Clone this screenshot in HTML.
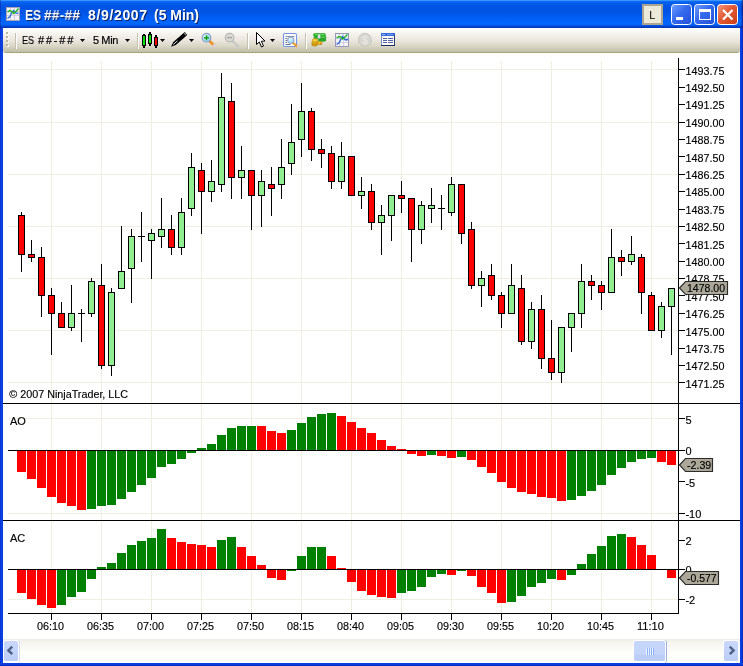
<!DOCTYPE html>
<html><head><meta charset="utf-8"><title>ES ##-## 8/9/2007 (5 Min)</title>
<style>
html,body{margin:0;padding:0;}
body{width:743px;height:666px;overflow:hidden;background:#fff;font-family:"Liberation Sans",sans-serif;position:relative;}
#win{position:absolute;left:0;top:0;width:743px;height:666px;background:#fff;overflow:hidden;}
#bl,#br,#bb{position:absolute;background:#0831D9;}
#bl{left:0;top:28px;width:3px;height:638px;background:linear-gradient(90deg,#0A30D0 0,#0A3FE0 1px,#0A3FE0 3px);}
#br{left:740px;top:28px;width:3px;height:638px;background:linear-gradient(90deg,#0A3FE0 0,#0A3FE0 1px,#0838D8 2px,#0024B0 3px);}
#bb{left:0;top:663px;width:743px;height:3px;background:linear-gradient(180deg,#0A3FE0 0,#0A3FE0 1px,#0838D8 2px,#0024B0 3px);}
#title{position:absolute;left:0;top:0;width:743px;height:28px;background:linear-gradient(180deg,#3A94FF 0,#3A94FF 1px,#1070F8 1px,#0862F0 2px,#0560EE 3px,#0054E3 6px,#0054E3 12px,#0160F7 19px,#0266FF 24px,#0161F8 25px,#0048D4 26px,#0033B0 28px);}
.tw{will-change:transform;position:absolute;top:7px;color:#fff;font-weight:bold;font-size:14px;line-height:16px;white-space:pre;text-shadow:1px 1px 0 #0A246A;letter-spacing:0.02px;}
#tool{position:absolute;left:3px;top:28px;width:737px;height:25px;background:linear-gradient(180deg,#FFFFFE 0,#FCFBF9 2px,#F5F3EC 6px,#ECE7E0 12px,#DAD7C6 18px,#C8C6B0 22px,#C2C1AA 24px,#A3A37C 24px,#A3A37C 25px);border-radius:0 0 3px 3px;}
.tt{-webkit-text-stroke:0.2px #000;will-change:transform;position:absolute;top:34px;font-size:11px;line-height:13px;color:#000;white-space:pre;letter-spacing:0.55px;}
#sb{position:absolute;left:3px;top:639px;width:737px;height:24px;background:linear-gradient(180deg,#EEEDE5 0,#F6F5F0 4px,#FEFEFB 14px,#FEFEFB 23px);}
.sbtn{position:absolute;top:640px;height:20px;border-bottom-width:2px !important;background:linear-gradient(180deg,#C9D8FC,#BCCDF8);border:1px solid #fff;border-radius:3px;box-shadow:0 0 0 0 #fff;}
</style></head><body>
<div id="win">
<svg width="743" height="666" style="position:absolute;left:0;top:0;will-change:transform" shape-rendering="crispEdges">
<rect x="51" y="61" width="1" height="552" fill="#F0EEE0"/>
<rect x="101" y="61" width="1" height="552" fill="#F0EEE0"/>
<rect x="151" y="61" width="1" height="552" fill="#F0EEE0"/>
<rect x="201" y="61" width="1" height="552" fill="#F0EEE0"/>
<rect x="251" y="61" width="1" height="552" fill="#F0EEE0"/>
<rect x="301" y="61" width="1" height="552" fill="#F0EEE0"/>
<rect x="351" y="61" width="1" height="552" fill="#F0EEE0"/>
<rect x="401" y="61" width="1" height="552" fill="#F0EEE0"/>
<rect x="451" y="61" width="1" height="552" fill="#F0EEE0"/>
<rect x="501" y="61" width="1" height="552" fill="#F0EEE0"/>
<rect x="551" y="61" width="1" height="552" fill="#F0EEE0"/>
<rect x="601" y="61" width="1" height="552" fill="#F0EEE0"/>
<rect x="651" y="61" width="1" height="552" fill="#F0EEE0"/>
<rect x="8" y="69" width="670" height="1" fill="#F0EEE0"/>
<rect x="8" y="122" width="670" height="1" fill="#F0EEE0"/>
<rect x="8" y="174" width="670" height="1" fill="#F0EEE0"/>
<rect x="8" y="226" width="670" height="1" fill="#F0EEE0"/>
<rect x="8" y="278" width="670" height="1" fill="#F0EEE0"/>
<rect x="8" y="330" width="670" height="1" fill="#F0EEE0"/>
<rect x="8" y="382" width="670" height="1" fill="#F0EEE0"/>
<rect x="8" y="418" width="670" height="1" fill="#F0EEE0"/>
<rect x="8" y="513" width="670" height="1" fill="#F0EEE0"/>
<rect x="8" y="599" width="670" height="1" fill="#F0EEE0"/>
<rect x="21" y="212" width="1" height="60" fill="#000"/>
<rect x="18" y="215" width="7" height="40" fill="#000"/>
<rect x="19" y="216" width="5" height="38" fill="#FF0000"/>
<rect x="31" y="240" width="1" height="22" fill="#000"/>
<rect x="28" y="254" width="7" height="4" fill="#000"/>
<rect x="29" y="255" width="5" height="2" fill="#FF0000"/>
<rect x="41" y="247" width="1" height="70" fill="#000"/>
<rect x="38" y="257" width="7" height="39" fill="#000"/>
<rect x="39" y="258" width="5" height="37" fill="#FF0000"/>
<rect x="51" y="288" width="1" height="67" fill="#000"/>
<rect x="48" y="295" width="7" height="19" fill="#000"/>
<rect x="49" y="296" width="5" height="17" fill="#FF0000"/>
<rect x="61" y="302" width="1" height="26" fill="#000"/>
<rect x="58" y="313" width="7" height="15" fill="#000"/>
<rect x="59" y="314" width="5" height="13" fill="#FF0000"/>
<rect x="71" y="285" width="1" height="46" fill="#000"/>
<rect x="68" y="313" width="7" height="15" fill="#000"/>
<rect x="69" y="314" width="5" height="13" fill="#90EE90"/>
<rect x="81" y="309" width="1" height="33" fill="#000"/>
<rect x="78" y="313" width="7" height="1" fill="#000"/>
<rect x="91" y="278" width="1" height="39" fill="#000"/>
<rect x="88" y="281" width="7" height="33" fill="#000"/>
<rect x="89" y="282" width="5" height="31" fill="#90EE90"/>
<rect x="101" y="264" width="1" height="105" fill="#000"/>
<rect x="98" y="285" width="7" height="81" fill="#000"/>
<rect x="99" y="286" width="5" height="79" fill="#FF0000"/>
<rect x="111" y="288" width="1" height="88" fill="#000"/>
<rect x="108" y="292" width="7" height="74" fill="#000"/>
<rect x="109" y="293" width="5" height="72" fill="#90EE90"/>
<rect x="121" y="226" width="1" height="63" fill="#000"/>
<rect x="118" y="271" width="7" height="18" fill="#000"/>
<rect x="119" y="272" width="5" height="16" fill="#90EE90"/>
<rect x="131" y="229" width="1" height="74" fill="#000"/>
<rect x="128" y="236" width="7" height="33" fill="#000"/>
<rect x="129" y="237" width="5" height="31" fill="#90EE90"/>
<rect x="141" y="212" width="1" height="50" fill="#000"/>
<rect x="138" y="236" width="7" height="1" fill="#000"/>
<rect x="151" y="229" width="1" height="50" fill="#000"/>
<rect x="148" y="233" width="7" height="8" fill="#000"/>
<rect x="149" y="234" width="5" height="6" fill="#90EE90"/>
<rect x="161" y="198" width="1" height="50" fill="#000"/>
<rect x="158" y="229" width="7" height="8" fill="#000"/>
<rect x="159" y="230" width="5" height="6" fill="#90EE90"/>
<rect x="171" y="215" width="1" height="40" fill="#000"/>
<rect x="168" y="229" width="7" height="19" fill="#000"/>
<rect x="169" y="230" width="5" height="17" fill="#FF0000"/>
<rect x="181" y="198" width="1" height="57" fill="#000"/>
<rect x="178" y="212" width="7" height="36" fill="#000"/>
<rect x="179" y="213" width="5" height="34" fill="#90EE90"/>
<rect x="191" y="153" width="1" height="63" fill="#000"/>
<rect x="188" y="167" width="7" height="42" fill="#000"/>
<rect x="189" y="168" width="5" height="40" fill="#90EE90"/>
<rect x="201" y="163" width="1" height="71" fill="#000"/>
<rect x="198" y="170" width="7" height="22" fill="#000"/>
<rect x="199" y="171" width="5" height="20" fill="#FF0000"/>
<rect x="211" y="160" width="1" height="42" fill="#000"/>
<rect x="208" y="181" width="7" height="11" fill="#000"/>
<rect x="209" y="182" width="5" height="9" fill="#90EE90"/>
<rect x="221" y="73" width="1" height="119" fill="#000"/>
<rect x="218" y="97" width="7" height="88" fill="#000"/>
<rect x="219" y="98" width="5" height="86" fill="#90EE90"/>
<rect x="231" y="83" width="1" height="116" fill="#000"/>
<rect x="228" y="101" width="7" height="77" fill="#000"/>
<rect x="229" y="102" width="5" height="75" fill="#FF0000"/>
<rect x="241" y="146" width="1" height="53" fill="#000"/>
<rect x="238" y="170" width="7" height="8" fill="#000"/>
<rect x="239" y="171" width="5" height="6" fill="#90EE90"/>
<rect x="251" y="170" width="1" height="60" fill="#000"/>
<rect x="248" y="170" width="7" height="26" fill="#000"/>
<rect x="249" y="171" width="5" height="24" fill="#FF0000"/>
<rect x="261" y="170" width="1" height="57" fill="#000"/>
<rect x="258" y="181" width="7" height="15" fill="#000"/>
<rect x="259" y="182" width="5" height="13" fill="#90EE90"/>
<rect x="271" y="167" width="1" height="49" fill="#000"/>
<rect x="268" y="184" width="7" height="5" fill="#000"/>
<rect x="269" y="185" width="5" height="3" fill="#FF0000"/>
<rect x="281" y="139" width="1" height="60" fill="#000"/>
<rect x="278" y="167" width="7" height="18" fill="#000"/>
<rect x="279" y="168" width="5" height="16" fill="#90EE90"/>
<rect x="291" y="104" width="1" height="71" fill="#000"/>
<rect x="288" y="142" width="7" height="22" fill="#000"/>
<rect x="289" y="143" width="5" height="20" fill="#90EE90"/>
<rect x="301" y="83" width="1" height="74" fill="#000"/>
<rect x="298" y="111" width="7" height="29" fill="#000"/>
<rect x="299" y="112" width="5" height="27" fill="#90EE90"/>
<rect x="311" y="108" width="1" height="53" fill="#000"/>
<rect x="308" y="111" width="7" height="39" fill="#000"/>
<rect x="309" y="112" width="5" height="37" fill="#FF0000"/>
<rect x="321" y="139" width="1" height="29" fill="#000"/>
<rect x="318" y="149" width="7" height="5" fill="#000"/>
<rect x="319" y="150" width="5" height="3" fill="#FF0000"/>
<rect x="331" y="146" width="1" height="43" fill="#000"/>
<rect x="328" y="153" width="7" height="29" fill="#000"/>
<rect x="329" y="154" width="5" height="27" fill="#FF0000"/>
<rect x="341" y="142" width="1" height="47" fill="#000"/>
<rect x="338" y="156" width="7" height="26" fill="#000"/>
<rect x="339" y="157" width="5" height="24" fill="#90EE90"/>
<rect x="351" y="156" width="1" height="40" fill="#000"/>
<rect x="348" y="156" width="7" height="40" fill="#000"/>
<rect x="349" y="157" width="5" height="38" fill="#FF0000"/>
<rect x="361" y="177" width="1" height="32" fill="#000"/>
<rect x="358" y="191" width="7" height="5" fill="#000"/>
<rect x="359" y="192" width="5" height="3" fill="#90EE90"/>
<rect x="371" y="184" width="1" height="46" fill="#000"/>
<rect x="368" y="191" width="7" height="32" fill="#000"/>
<rect x="369" y="192" width="5" height="30" fill="#FF0000"/>
<rect x="381" y="205" width="1" height="50" fill="#000"/>
<rect x="378" y="215" width="7" height="8" fill="#000"/>
<rect x="379" y="216" width="5" height="6" fill="#90EE90"/>
<rect x="391" y="195" width="1" height="46" fill="#000"/>
<rect x="388" y="195" width="7" height="21" fill="#000"/>
<rect x="389" y="196" width="5" height="19" fill="#90EE90"/>
<rect x="401" y="181" width="1" height="32" fill="#000"/>
<rect x="398" y="195" width="7" height="4" fill="#000"/>
<rect x="399" y="196" width="5" height="2" fill="#FF0000"/>
<rect x="411" y="198" width="1" height="64" fill="#000"/>
<rect x="408" y="198" width="7" height="32" fill="#000"/>
<rect x="409" y="199" width="5" height="30" fill="#FF0000"/>
<rect x="421" y="201" width="1" height="43" fill="#000"/>
<rect x="418" y="205" width="7" height="25" fill="#000"/>
<rect x="419" y="206" width="5" height="23" fill="#90EE90"/>
<rect x="431" y="188" width="1" height="35" fill="#000"/>
<rect x="428" y="205" width="7" height="4" fill="#000"/>
<rect x="429" y="206" width="5" height="2" fill="#90EE90"/>
<rect x="441" y="195" width="1" height="35" fill="#000"/>
<rect x="438" y="208" width="7" height="1" fill="#000"/>
<rect x="451" y="177" width="1" height="39" fill="#000"/>
<rect x="448" y="184" width="7" height="29" fill="#000"/>
<rect x="449" y="185" width="5" height="27" fill="#90EE90"/>
<rect x="461" y="184" width="1" height="60" fill="#000"/>
<rect x="458" y="184" width="7" height="50" fill="#000"/>
<rect x="459" y="185" width="5" height="48" fill="#FF0000"/>
<rect x="471" y="222" width="1" height="67" fill="#000"/>
<rect x="468" y="229" width="7" height="57" fill="#000"/>
<rect x="469" y="230" width="5" height="55" fill="#FF0000"/>
<rect x="481" y="271" width="1" height="36" fill="#000"/>
<rect x="478" y="278" width="7" height="8" fill="#000"/>
<rect x="479" y="279" width="5" height="6" fill="#90EE90"/>
<rect x="491" y="264" width="1" height="36" fill="#000"/>
<rect x="488" y="275" width="7" height="21" fill="#000"/>
<rect x="489" y="276" width="5" height="19" fill="#FF0000"/>
<rect x="501" y="292" width="1" height="36" fill="#000"/>
<rect x="498" y="295" width="7" height="19" fill="#000"/>
<rect x="499" y="296" width="5" height="17" fill="#FF0000"/>
<rect x="511" y="264" width="1" height="50" fill="#000"/>
<rect x="508" y="285" width="7" height="29" fill="#000"/>
<rect x="509" y="286" width="5" height="27" fill="#90EE90"/>
<rect x="521" y="275" width="1" height="70" fill="#000"/>
<rect x="518" y="288" width="7" height="54" fill="#000"/>
<rect x="519" y="289" width="5" height="52" fill="#FF0000"/>
<rect x="531" y="302" width="1" height="47" fill="#000"/>
<rect x="528" y="309" width="7" height="33" fill="#000"/>
<rect x="529" y="310" width="5" height="31" fill="#90EE90"/>
<rect x="541" y="295" width="1" height="74" fill="#000"/>
<rect x="538" y="309" width="7" height="50" fill="#000"/>
<rect x="539" y="310" width="5" height="48" fill="#FF0000"/>
<rect x="551" y="320" width="1" height="60" fill="#000"/>
<rect x="548" y="358" width="7" height="15" fill="#000"/>
<rect x="549" y="359" width="5" height="13" fill="#FF0000"/>
<rect x="561" y="327" width="1" height="56" fill="#000"/>
<rect x="558" y="327" width="7" height="46" fill="#000"/>
<rect x="559" y="328" width="5" height="44" fill="#90EE90"/>
<rect x="571" y="313" width="1" height="39" fill="#000"/>
<rect x="568" y="313" width="7" height="15" fill="#000"/>
<rect x="569" y="314" width="5" height="13" fill="#90EE90"/>
<rect x="581" y="264" width="1" height="64" fill="#000"/>
<rect x="578" y="281" width="7" height="33" fill="#000"/>
<rect x="579" y="282" width="5" height="31" fill="#90EE90"/>
<rect x="591" y="275" width="1" height="25" fill="#000"/>
<rect x="588" y="281" width="7" height="5" fill="#000"/>
<rect x="589" y="282" width="5" height="3" fill="#FF0000"/>
<rect x="601" y="281" width="1" height="29" fill="#000"/>
<rect x="598" y="285" width="7" height="8" fill="#000"/>
<rect x="599" y="286" width="5" height="6" fill="#FF0000"/>
<rect x="611" y="229" width="1" height="64" fill="#000"/>
<rect x="608" y="257" width="7" height="36" fill="#000"/>
<rect x="609" y="258" width="5" height="34" fill="#90EE90"/>
<rect x="621" y="250" width="1" height="26" fill="#000"/>
<rect x="618" y="257" width="7" height="5" fill="#000"/>
<rect x="619" y="258" width="5" height="3" fill="#FF0000"/>
<rect x="631" y="236" width="1" height="29" fill="#000"/>
<rect x="628" y="254" width="7" height="8" fill="#000"/>
<rect x="629" y="255" width="5" height="6" fill="#90EE90"/>
<rect x="641" y="254" width="1" height="60" fill="#000"/>
<rect x="638" y="257" width="7" height="36" fill="#000"/>
<rect x="639" y="258" width="5" height="34" fill="#FF0000"/>
<rect x="651" y="292" width="1" height="39" fill="#000"/>
<rect x="648" y="295" width="7" height="36" fill="#000"/>
<rect x="649" y="296" width="5" height="34" fill="#FF0000"/>
<rect x="661" y="302" width="1" height="36" fill="#000"/>
<rect x="658" y="306" width="7" height="25" fill="#000"/>
<rect x="659" y="307" width="5" height="23" fill="#90EE90"/>
<rect x="671" y="288" width="1" height="67" fill="#000"/>
<rect x="668" y="288" width="7" height="19" fill="#000"/>
<rect x="669" y="289" width="5" height="17" fill="#90EE90"/>
<rect x="17" y="451" width="9" height="21" fill="#FF0000"/>
<rect x="27" y="451" width="9" height="28" fill="#FF0000"/>
<rect x="37" y="451" width="9" height="37" fill="#FF0000"/>
<rect x="47" y="451" width="9" height="46" fill="#FF0000"/>
<rect x="57" y="451" width="9" height="52" fill="#FF0000"/>
<rect x="67" y="451" width="9" height="55" fill="#FF0000"/>
<rect x="77" y="451" width="9" height="59" fill="#FF0000"/>
<rect x="87" y="451" width="9" height="58" fill="#008000"/>
<rect x="97" y="451" width="9" height="55" fill="#008000"/>
<rect x="107" y="451" width="9" height="54" fill="#008000"/>
<rect x="117" y="451" width="9" height="48" fill="#008000"/>
<rect x="127" y="451" width="9" height="41" fill="#008000"/>
<rect x="137" y="451" width="9" height="34" fill="#008000"/>
<rect x="147" y="451" width="9" height="27" fill="#008000"/>
<rect x="157" y="451" width="9" height="16" fill="#008000"/>
<rect x="167" y="451" width="9" height="13" fill="#008000"/>
<rect x="177" y="451" width="9" height="8" fill="#008000"/>
<rect x="187" y="451" width="9" height="2" fill="#008000"/>
<rect x="197" y="448" width="9" height="2" fill="#008000"/>
<rect x="207" y="444" width="9" height="6" fill="#008000"/>
<rect x="217" y="435" width="9" height="15" fill="#008000"/>
<rect x="227" y="428" width="9" height="22" fill="#008000"/>
<rect x="237" y="426" width="9" height="24" fill="#008000"/>
<rect x="247" y="426" width="9" height="24" fill="#008000"/>
<rect x="257" y="426" width="9" height="24" fill="#FF0000"/>
<rect x="267" y="431" width="9" height="19" fill="#FF0000"/>
<rect x="277" y="433" width="9" height="17" fill="#FF0000"/>
<rect x="287" y="430" width="9" height="20" fill="#008000"/>
<rect x="297" y="423" width="9" height="27" fill="#008000"/>
<rect x="307" y="417" width="9" height="33" fill="#008000"/>
<rect x="317" y="414" width="9" height="36" fill="#008000"/>
<rect x="327" y="413" width="9" height="37" fill="#008000"/>
<rect x="337" y="416" width="9" height="34" fill="#FF0000"/>
<rect x="347" y="422" width="9" height="28" fill="#FF0000"/>
<rect x="357" y="428" width="9" height="22" fill="#FF0000"/>
<rect x="367" y="433" width="9" height="17" fill="#FF0000"/>
<rect x="377" y="440" width="9" height="10" fill="#FF0000"/>
<rect x="387" y="446" width="9" height="4" fill="#FF0000"/>
<rect x="397" y="449" width="9" height="1" fill="#FF0000"/>
<rect x="407" y="451" width="9" height="3" fill="#FF0000"/>
<rect x="417" y="451" width="9" height="5" fill="#FF0000"/>
<rect x="427" y="451" width="9" height="4" fill="#008000"/>
<rect x="437" y="451" width="9" height="5" fill="#FF0000"/>
<rect x="447" y="451" width="9" height="7" fill="#FF0000"/>
<rect x="457" y="451" width="9" height="6" fill="#008000"/>
<rect x="467" y="451" width="9" height="9" fill="#FF0000"/>
<rect x="477" y="451" width="9" height="16" fill="#FF0000"/>
<rect x="487" y="451" width="9" height="22" fill="#FF0000"/>
<rect x="497" y="451" width="9" height="31" fill="#FF0000"/>
<rect x="507" y="451" width="9" height="37" fill="#FF0000"/>
<rect x="517" y="451" width="9" height="41" fill="#FF0000"/>
<rect x="527" y="451" width="9" height="43" fill="#FF0000"/>
<rect x="537" y="451" width="9" height="46" fill="#FF0000"/>
<rect x="547" y="451" width="9" height="47" fill="#FF0000"/>
<rect x="557" y="451" width="9" height="50" fill="#FF0000"/>
<rect x="567" y="451" width="9" height="49" fill="#008000"/>
<rect x="577" y="451" width="9" height="45" fill="#008000"/>
<rect x="587" y="451" width="9" height="40" fill="#008000"/>
<rect x="597" y="451" width="9" height="34" fill="#008000"/>
<rect x="607" y="451" width="9" height="24" fill="#008000"/>
<rect x="617" y="451" width="9" height="17" fill="#008000"/>
<rect x="627" y="451" width="9" height="11" fill="#008000"/>
<rect x="637" y="451" width="9" height="8" fill="#008000"/>
<rect x="647" y="451" width="9" height="7" fill="#008000"/>
<rect x="657" y="451" width="9" height="11" fill="#FF0000"/>
<rect x="667" y="451" width="9" height="14" fill="#FF0000"/>
<rect x="17" y="570" width="9" height="23" fill="#FF0000"/>
<rect x="27" y="570" width="9" height="29" fill="#FF0000"/>
<rect x="37" y="570" width="9" height="35" fill="#FF0000"/>
<rect x="47" y="570" width="9" height="38" fill="#FF0000"/>
<rect x="57" y="570" width="9" height="35" fill="#008000"/>
<rect x="67" y="570" width="9" height="27" fill="#008000"/>
<rect x="77" y="570" width="9" height="22" fill="#008000"/>
<rect x="87" y="570" width="9" height="9" fill="#008000"/>
<rect x="97" y="567" width="9" height="2" fill="#008000"/>
<rect x="107" y="563" width="9" height="6" fill="#008000"/>
<rect x="117" y="553" width="9" height="16" fill="#008000"/>
<rect x="127" y="545" width="9" height="24" fill="#008000"/>
<rect x="137" y="541" width="9" height="28" fill="#008000"/>
<rect x="147" y="538" width="9" height="31" fill="#008000"/>
<rect x="157" y="529" width="9" height="40" fill="#008000"/>
<rect x="167" y="538" width="9" height="31" fill="#FF0000"/>
<rect x="177" y="542" width="9" height="27" fill="#FF0000"/>
<rect x="187" y="544" width="9" height="25" fill="#FF0000"/>
<rect x="197" y="545" width="9" height="24" fill="#FF0000"/>
<rect x="207" y="547" width="9" height="22" fill="#FF0000"/>
<rect x="217" y="540" width="9" height="29" fill="#008000"/>
<rect x="227" y="537" width="9" height="32" fill="#008000"/>
<rect x="237" y="547" width="9" height="22" fill="#FF0000"/>
<rect x="247" y="556" width="9" height="13" fill="#FF0000"/>
<rect x="257" y="565" width="9" height="4" fill="#FF0000"/>
<rect x="267" y="570" width="9" height="8" fill="#FF0000"/>
<rect x="277" y="570" width="9" height="10" fill="#FF0000"/>
<rect x="287" y="570" width="9" height="1" fill="#008000"/>
<rect x="297" y="556" width="9" height="13" fill="#008000"/>
<rect x="307" y="547" width="9" height="22" fill="#008000"/>
<rect x="317" y="547" width="9" height="22" fill="#008000"/>
<rect x="327" y="556" width="9" height="13" fill="#FF0000"/>
<rect x="337" y="568" width="9" height="1" fill="#FF0000"/>
<rect x="347" y="570" width="9" height="12" fill="#FF0000"/>
<rect x="357" y="570" width="9" height="21" fill="#FF0000"/>
<rect x="367" y="570" width="9" height="25" fill="#FF0000"/>
<rect x="377" y="570" width="9" height="27" fill="#FF0000"/>
<rect x="387" y="570" width="9" height="28" fill="#FF0000"/>
<rect x="397" y="570" width="9" height="23" fill="#008000"/>
<rect x="407" y="570" width="9" height="21" fill="#008000"/>
<rect x="417" y="570" width="9" height="17" fill="#008000"/>
<rect x="427" y="570" width="9" height="7" fill="#008000"/>
<rect x="437" y="570" width="9" height="4" fill="#008000"/>
<rect x="447" y="570" width="9" height="5" fill="#FF0000"/>
<rect x="457" y="570" width="9" height="1" fill="#008000"/>
<rect x="467" y="570" width="9" height="6" fill="#FF0000"/>
<rect x="477" y="570" width="9" height="17" fill="#FF0000"/>
<rect x="487" y="570" width="9" height="23" fill="#FF0000"/>
<rect x="497" y="570" width="9" height="33" fill="#FF0000"/>
<rect x="507" y="570" width="9" height="32" fill="#008000"/>
<rect x="517" y="570" width="9" height="26" fill="#008000"/>
<rect x="527" y="570" width="9" height="17" fill="#008000"/>
<rect x="537" y="570" width="9" height="13" fill="#008000"/>
<rect x="547" y="570" width="9" height="9" fill="#008000"/>
<rect x="557" y="570" width="9" height="10" fill="#FF0000"/>
<rect x="567" y="570" width="9" height="5" fill="#008000"/>
<rect x="577" y="564" width="9" height="5" fill="#008000"/>
<rect x="587" y="554" width="9" height="15" fill="#008000"/>
<rect x="597" y="546" width="9" height="23" fill="#008000"/>
<rect x="607" y="536" width="9" height="33" fill="#008000"/>
<rect x="617" y="534" width="9" height="35" fill="#008000"/>
<rect x="627" y="537" width="9" height="32" fill="#FF0000"/>
<rect x="637" y="545" width="9" height="24" fill="#FF0000"/>
<rect x="647" y="555" width="9" height="14" fill="#FF0000"/>
<rect x="667" y="570" width="9" height="8" fill="#FF0000"/>
<rect x="3" y="403" width="737" height="1" fill="#000"/>
<rect x="3" y="520" width="737" height="1" fill="#000"/>
<rect x="8" y="450" width="670" height="1" fill="#000"/>
<rect x="8" y="569" width="670" height="1" fill="#000"/>
<rect x="678" y="58" width="1" height="556" fill="#000"/>
<rect x="8" y="613" width="671" height="1" fill="#000"/>
<rect x="51" y="614" width="1" height="6" fill="#000"/>
<rect x="101" y="614" width="1" height="6" fill="#000"/>
<rect x="151" y="614" width="1" height="6" fill="#000"/>
<rect x="201" y="614" width="1" height="6" fill="#000"/>
<rect x="251" y="614" width="1" height="6" fill="#000"/>
<rect x="301" y="614" width="1" height="6" fill="#000"/>
<rect x="351" y="614" width="1" height="6" fill="#000"/>
<rect x="401" y="614" width="1" height="6" fill="#000"/>
<rect x="451" y="614" width="1" height="6" fill="#000"/>
<rect x="501" y="614" width="1" height="6" fill="#000"/>
<rect x="551" y="614" width="1" height="6" fill="#000"/>
<rect x="601" y="614" width="1" height="6" fill="#000"/>
<rect x="651" y="614" width="1" height="6" fill="#000"/>
<rect x="679" y="69" width="6" height="1" fill="#000"/>
<text x="685.6" y="75" textLength="38.9" lengthAdjust="spacingAndGlyphs" font-family="Liberation Sans, sans-serif" font-size="11" fill="#000" stroke="#000" stroke-width="0.15">1493.75</text>
<rect x="679" y="87" width="6" height="1" fill="#000"/>
<text x="685.6" y="92" textLength="38.9" lengthAdjust="spacingAndGlyphs" font-family="Liberation Sans, sans-serif" font-size="11" fill="#000" stroke="#000" stroke-width="0.15">1492.50</text>
<rect x="679" y="104" width="6" height="1" fill="#000"/>
<text x="685.6" y="109" textLength="38.9" lengthAdjust="spacingAndGlyphs" font-family="Liberation Sans, sans-serif" font-size="11" fill="#000" stroke="#000" stroke-width="0.15">1491.25</text>
<rect x="679" y="122" width="6" height="1" fill="#000"/>
<text x="685.6" y="127" textLength="38.9" lengthAdjust="spacingAndGlyphs" font-family="Liberation Sans, sans-serif" font-size="11" fill="#000" stroke="#000" stroke-width="0.15">1490.00</text>
<rect x="679" y="139" width="6" height="1" fill="#000"/>
<text x="685.6" y="144" textLength="38.9" lengthAdjust="spacingAndGlyphs" font-family="Liberation Sans, sans-serif" font-size="11" fill="#000" stroke="#000" stroke-width="0.15">1488.75</text>
<rect x="679" y="156" width="6" height="1" fill="#000"/>
<text x="685.6" y="162" textLength="38.9" lengthAdjust="spacingAndGlyphs" font-family="Liberation Sans, sans-serif" font-size="11" fill="#000" stroke="#000" stroke-width="0.15">1487.50</text>
<rect x="679" y="174" width="6" height="1" fill="#000"/>
<text x="685.6" y="179" textLength="38.9" lengthAdjust="spacingAndGlyphs" font-family="Liberation Sans, sans-serif" font-size="11" fill="#000" stroke="#000" stroke-width="0.15">1486.25</text>
<rect x="679" y="191" width="6" height="1" fill="#000"/>
<text x="685.6" y="196" textLength="38.9" lengthAdjust="spacingAndGlyphs" font-family="Liberation Sans, sans-serif" font-size="11" fill="#000" stroke="#000" stroke-width="0.15">1485.00</text>
<rect x="679" y="209" width="6" height="1" fill="#000"/>
<text x="685.6" y="214" textLength="38.9" lengthAdjust="spacingAndGlyphs" font-family="Liberation Sans, sans-serif" font-size="11" fill="#000" stroke="#000" stroke-width="0.15">1483.75</text>
<rect x="679" y="226" width="6" height="1" fill="#000"/>
<text x="685.6" y="231" textLength="38.9" lengthAdjust="spacingAndGlyphs" font-family="Liberation Sans, sans-serif" font-size="11" fill="#000" stroke="#000" stroke-width="0.15">1482.50</text>
<rect x="679" y="243" width="6" height="1" fill="#000"/>
<text x="685.6" y="249" textLength="38.9" lengthAdjust="spacingAndGlyphs" font-family="Liberation Sans, sans-serif" font-size="11" fill="#000" stroke="#000" stroke-width="0.15">1481.25</text>
<rect x="679" y="261" width="6" height="1" fill="#000"/>
<text x="685.6" y="266" textLength="38.9" lengthAdjust="spacingAndGlyphs" font-family="Liberation Sans, sans-serif" font-size="11" fill="#000" stroke="#000" stroke-width="0.15">1480.00</text>
<rect x="679" y="278" width="6" height="1" fill="#000"/>
<text x="685.6" y="283" textLength="38.9" lengthAdjust="spacingAndGlyphs" font-family="Liberation Sans, sans-serif" font-size="11" fill="#000" stroke="#000" stroke-width="0.15">1478.75</text>
<rect x="679" y="295" width="6" height="1" fill="#000"/>
<text x="685.6" y="301" textLength="38.9" lengthAdjust="spacingAndGlyphs" font-family="Liberation Sans, sans-serif" font-size="11" fill="#000" stroke="#000" stroke-width="0.15">1477.50</text>
<rect x="679" y="313" width="6" height="1" fill="#000"/>
<text x="685.6" y="318" textLength="38.9" lengthAdjust="spacingAndGlyphs" font-family="Liberation Sans, sans-serif" font-size="11" fill="#000" stroke="#000" stroke-width="0.15">1476.25</text>
<rect x="679" y="330" width="6" height="1" fill="#000"/>
<text x="685.6" y="336" textLength="38.9" lengthAdjust="spacingAndGlyphs" font-family="Liberation Sans, sans-serif" font-size="11" fill="#000" stroke="#000" stroke-width="0.15">1475.00</text>
<rect x="679" y="348" width="6" height="1" fill="#000"/>
<text x="685.6" y="353" textLength="38.9" lengthAdjust="spacingAndGlyphs" font-family="Liberation Sans, sans-serif" font-size="11" fill="#000" stroke="#000" stroke-width="0.15">1473.75</text>
<rect x="679" y="365" width="6" height="1" fill="#000"/>
<text x="685.6" y="370" textLength="38.9" lengthAdjust="spacingAndGlyphs" font-family="Liberation Sans, sans-serif" font-size="11" fill="#000" stroke="#000" stroke-width="0.15">1472.50</text>
<rect x="679" y="382" width="6" height="1" fill="#000"/>
<text x="685.6" y="388" textLength="38.9" lengthAdjust="spacingAndGlyphs" font-family="Liberation Sans, sans-serif" font-size="11" fill="#000" stroke="#000" stroke-width="0.15">1471.25</text>
<rect x="679" y="418" width="6" height="1" fill="#000"/>
<text x="685.4" y="424" font-family="Liberation Sans, sans-serif" font-size="11" fill="#000" stroke="#000" stroke-width="0.15">5</text>
<rect x="679" y="450" width="6" height="1" fill="#000"/>
<text x="685.4" y="455" font-family="Liberation Sans, sans-serif" font-size="11" fill="#000" stroke="#000" stroke-width="0.15">0</text>
<rect x="679" y="481" width="6" height="1" fill="#000"/>
<text x="685.4" y="487" font-family="Liberation Sans, sans-serif" font-size="11" fill="#000" stroke="#000" stroke-width="0.15">-5</text>
<rect x="679" y="513" width="6" height="1" fill="#000"/>
<text x="685.4" y="518" font-family="Liberation Sans, sans-serif" font-size="11" fill="#000" stroke="#000" stroke-width="0.15">-10</text>
<rect x="679" y="540" width="6" height="1" fill="#000"/>
<text x="685.4" y="545" font-family="Liberation Sans, sans-serif" font-size="11" fill="#000" stroke="#000" stroke-width="0.15">2</text>
<rect x="679" y="569" width="6" height="1" fill="#000"/>
<text x="685.4" y="574" font-family="Liberation Sans, sans-serif" font-size="11" fill="#000" stroke="#000" stroke-width="0.15">0</text>
<rect x="679" y="599" width="6" height="1" fill="#000"/>
<text x="685.4" y="604" font-family="Liberation Sans, sans-serif" font-size="11" fill="#000" stroke="#000" stroke-width="0.15">-2</text>
<text x="50.4" y="630" text-anchor="middle" textLength="27" lengthAdjust="spacingAndGlyphs" font-family="Liberation Sans, sans-serif" font-size="11" fill="#000" stroke="#000" stroke-width="0.15">06:10</text>
<text x="100.4" y="630" text-anchor="middle" textLength="27" lengthAdjust="spacingAndGlyphs" font-family="Liberation Sans, sans-serif" font-size="11" fill="#000" stroke="#000" stroke-width="0.15">06:35</text>
<text x="150.4" y="630" text-anchor="middle" textLength="27" lengthAdjust="spacingAndGlyphs" font-family="Liberation Sans, sans-serif" font-size="11" fill="#000" stroke="#000" stroke-width="0.15">07:00</text>
<text x="200.4" y="630" text-anchor="middle" textLength="27" lengthAdjust="spacingAndGlyphs" font-family="Liberation Sans, sans-serif" font-size="11" fill="#000" stroke="#000" stroke-width="0.15">07:25</text>
<text x="250.4" y="630" text-anchor="middle" textLength="27" lengthAdjust="spacingAndGlyphs" font-family="Liberation Sans, sans-serif" font-size="11" fill="#000" stroke="#000" stroke-width="0.15">07:50</text>
<text x="300.4" y="630" text-anchor="middle" textLength="27" lengthAdjust="spacingAndGlyphs" font-family="Liberation Sans, sans-serif" font-size="11" fill="#000" stroke="#000" stroke-width="0.15">08:15</text>
<text x="350.4" y="630" text-anchor="middle" textLength="27" lengthAdjust="spacingAndGlyphs" font-family="Liberation Sans, sans-serif" font-size="11" fill="#000" stroke="#000" stroke-width="0.15">08:40</text>
<text x="400.4" y="630" text-anchor="middle" textLength="27" lengthAdjust="spacingAndGlyphs" font-family="Liberation Sans, sans-serif" font-size="11" fill="#000" stroke="#000" stroke-width="0.15">09:05</text>
<text x="450.4" y="630" text-anchor="middle" textLength="27" lengthAdjust="spacingAndGlyphs" font-family="Liberation Sans, sans-serif" font-size="11" fill="#000" stroke="#000" stroke-width="0.15">09:30</text>
<text x="500.4" y="630" text-anchor="middle" textLength="27" lengthAdjust="spacingAndGlyphs" font-family="Liberation Sans, sans-serif" font-size="11" fill="#000" stroke="#000" stroke-width="0.15">09:55</text>
<text x="550.4" y="630" text-anchor="middle" textLength="27" lengthAdjust="spacingAndGlyphs" font-family="Liberation Sans, sans-serif" font-size="11" fill="#000" stroke="#000" stroke-width="0.15">10:20</text>
<text x="600.4" y="630" text-anchor="middle" textLength="27" lengthAdjust="spacingAndGlyphs" font-family="Liberation Sans, sans-serif" font-size="11" fill="#000" stroke="#000" stroke-width="0.15">10:45</text>
<text x="650.4" y="630" text-anchor="middle" textLength="27" lengthAdjust="spacingAndGlyphs" font-family="Liberation Sans, sans-serif" font-size="11" fill="#000" stroke="#000" stroke-width="0.15">11:10</text>
<text x="9.3" y="398" textLength="118.8" lengthAdjust="spacingAndGlyphs" font-family="Liberation Sans, sans-serif" font-size="11" fill="#000" stroke="#000" stroke-width="0.15">© 2007 NinjaTrader, LLC</text>
<text x="10" y="425" font-family="Liberation Sans, sans-serif" font-size="11" fill="#000" stroke="#000" stroke-width="0.15">AO</text>
<text x="10" y="542" font-family="Liberation Sans, sans-serif" font-size="11" fill="#000" stroke="#000" stroke-width="0.15">AC</text>
<polygon points="679.5,288 685.5,281.5 727.5,281.5 727.5,294.5 685.5,294.5" fill="#ACA899" stroke="#2C2C2C" stroke-width="1.15" shape-rendering="geometricPrecision"/>
<text x="687" y="292" textLength="38" lengthAdjust="spacingAndGlyphs" font-family="Liberation Sans, sans-serif" font-size="11" fill="#000" stroke="#000" stroke-width="0.15">1478.00</text>
<polygon points="679.5,465 685.5,458.5 712.5,458.5 712.5,471.5 685.5,471.5" fill="#ACA899" stroke="#2C2C2C" stroke-width="1.15" shape-rendering="geometricPrecision"/>
<text x="687" y="469" textLength="24.3" lengthAdjust="spacingAndGlyphs" font-family="Liberation Sans, sans-serif" font-size="11" fill="#000" stroke="#000" stroke-width="0.15">-2.39</text>
<polygon points="679.5,578 685.5,571.5 718.5,571.5 718.5,584.5 685.5,584.5" fill="#ACA899" stroke="#2C2C2C" stroke-width="1.15" shape-rendering="geometricPrecision"/>
<text x="687" y="582" textLength="29.7" lengthAdjust="spacingAndGlyphs" font-family="Liberation Sans, sans-serif" font-size="11" fill="#000" stroke="#000" stroke-width="0.15">-0.577</text>
</svg>
<div id="title"><div style="position:absolute;left:0;top:0;width:1px;height:28px;background:rgba(0,20,120,0.35)"></div><div style="position:absolute;left:742px;top:0;width:1px;height:28px;background:rgba(0,10,100,0.5)"></div><div style="position:absolute;left:741px;top:0;width:1px;height:28px;background:rgba(0,20,120,0.25)"></div></div>
<div class="tw" style="left:25.4px;transform:scaleX(0.86);transform-origin:0 0">ES</div><div class="tw" style="left:44.4px;letter-spacing:0.3px;transform:scaleX(0.97);transform-origin:0 0">##-##</div><div class="tw" style="left:88.1px;letter-spacing:0.65px">8/9/2007</div><div class="tw" style="left:153.8px;letter-spacing:-0.02px">(5 Min)</div>
<div id="tool"></div>
<div class="tt" style="left:21.8px;letter-spacing:0;transform:scaleX(0.82);transform-origin:0 0">ES</div><div class="tt" style="left:38.3px;letter-spacing:1.8px">##-##</div>
<div class="tt" style="left:93px;letter-spacing:-0.4px">5 Min</div>
<div id="sb"></div>
<div class="sbtn" style="left:3px;width:14px;box-shadow:1px 0 0 #D4DCF0"></div>
<div class="sbtn" style="left:723px;width:14px"></div>
<div class="sbtn" style="left:633px;width:31px;box-shadow:1px 0 0 #9BB0E0;background:linear-gradient(180deg,#C6D6FB 0,#C4D4FA 13px,#BCCDF7 14px,#BCCDF7 20px)"></div>
<svg width="743" height="666" style="position:absolute;left:0;top:0">
<defs>
<linearGradient id="gb" x1="0" y1="0" x2="1" y2="1"><stop offset="0" stop-color="#70A0FF"/><stop offset="0.45" stop-color="#356AEE"/><stop offset="1" stop-color="#2450D8"/></linearGradient>
<linearGradient id="gr" x1="0" y1="0" x2="1" y2="1"><stop offset="0" stop-color="#F29A80"/><stop offset="0.45" stop-color="#E25A34"/><stop offset="1" stop-color="#C83C14"/></linearGradient>
<radialGradient id="lens" cx="0.4" cy="0.35" r="0.7"><stop offset="0" stop-color="#E8F8FF"/><stop offset="1" stop-color="#84C8F2"/></radialGradient>
</defs>
<!-- title icon -->
<g>
<rect x="6.5" y="7.5" width="13" height="13" fill="#F4F2FA" stroke="#A8A4B8" stroke-width="1"/>
<path d="M10.5 8v12M14.5 8v12M7 11.5h12M7 15.5h12" stroke="#D0CCE0" stroke-width="1" fill="none"/>
<path d="M7.5 18.5 L10 16.5 L11.5 13 L13.5 10.5 L15.5 13 L18.5 13.5" stroke="#2E6CD8" stroke-width="1.3" fill="none"/>
<path d="M7.5 12 L10 10.5 L12 11.5 L13.5 13.5 L16 11.5 L18.5 8.5" stroke="#22B822" stroke-width="1.5" fill="none"/>
</g>
<!-- L button -->
<rect x="642" y="4" width="21" height="21" fill="#ACA591"/>
<rect x="644" y="6" width="17" height="17" fill="#ECE9D8"/>
<text x="649.3" y="19" font-family="Liberation Sans, sans-serif" font-size="11" fill="#000">L</text>
<!-- min -->
<rect x="671.5" y="4.5" width="20" height="20" rx="3" fill="url(#gb)" stroke="#fff" stroke-width="1"/>
<rect x="676" y="17" width="7" height="3" fill="#fff"/>
<!-- max -->
<rect x="694.5" y="4.5" width="20" height="20" rx="3" fill="url(#gb)" stroke="#fff" stroke-width="1"/>
<rect x="699.5" y="9.5" width="11" height="10" fill="none" stroke="#fff" stroke-width="1"/>
<rect x="699" y="9" width="12" height="3" fill="#fff"/>
<!-- close -->
<rect x="717.5" y="4.5" width="20" height="20" rx="3" fill="url(#gr)" stroke="#fff" stroke-width="1"/>
<path d="M723 10 L732.5 19.5 M732.5 10 L723 19.5" stroke="#fff" stroke-width="2.2" fill="none"/>
<!-- toolbar grip -->
<g fill="#B8B5A4">
<rect x="6" y="32" width="2" height="2"/><rect x="6" y="36" width="2" height="2"/><rect x="6" y="40" width="2" height="2"/><rect x="6" y="44" width="2" height="2"/>
</g>
<g fill="#fff">
<path d="M8 33v2h-1v-1h-1v1h2z M8 37v2h-1v-1h-1v1h2z M8 41v2h-1v-1h-1v1h2z M8 45v2h-1v-1h-1v1h2z" fill="none"/>
<rect x="8" y="33" width="1" height="2"/><rect x="7" y="34" width="1" height="1"/>
<rect x="8" y="37" width="1" height="2"/><rect x="7" y="38" width="1" height="1"/>
<rect x="8" y="41" width="1" height="2"/><rect x="7" y="42" width="1" height="1"/>
<rect x="8" y="45" width="1" height="2"/><rect x="7" y="46" width="1" height="1"/>
</g>
<!-- separators -->
<g>
<rect x="15" y="33" width="1" height="16" fill="#C5C2B2"/><rect x="16" y="33" width="1" height="16" fill="#fff"/>
<rect x="137" y="33" width="1" height="16" fill="#C5C2B2"/><rect x="138" y="33" width="1" height="16" fill="#fff"/>
<rect x="247" y="33" width="1" height="16" fill="#C5C2B2"/><rect x="248" y="33" width="1" height="16" fill="#fff"/>
<rect x="305" y="33" width="1" height="16" fill="#C5C2B2"/><rect x="306" y="33" width="1" height="16" fill="#fff"/>
</g>
<!-- dropdown arrows -->
<g fill="#000">
<path d="M80 39h5l-2.5 3z"/><path d="M125 39h5l-2.5 3z"/><path d="M160 39h5l-2.5 3z"/><path d="M189 39h5l-2.5 3z"/><path d="M270 39h5l-2.5 3z"/>
</g>
<!-- candle icon -->
<g shape-rendering="crispEdges">
<rect x="143" y="34" width="2" height="14" fill="#000"/><rect x="142" y="35" width="4" height="11" fill="#000"/><rect x="143" y="36" width="2" height="9" fill="#00E000"/>
<rect x="149" y="32" width="2" height="14" fill="#000"/><rect x="148" y="34" width="4" height="10" fill="#000"/><rect x="149" y="35" width="2" height="8" fill="#00E000"/>
<rect x="155" y="35" width="2" height="13" fill="#000"/><rect x="154" y="37" width="4" height="9" fill="#000"/><rect x="155" y="38" width="2" height="7" fill="#F00000"/>
</g>
<!-- pen -->
<g>
<path d="M171 46.7 L173.3 42 L184.8 32 L187.3 34.9 L175.8 44.9 Z" fill="#000"/>
<path d="M173.2 44.6 L177.5 40.8" stroke="#fff" stroke-width="0.9"/>
<path d="M184.3 33.2 L186.3 35.5" stroke="#9A9A9A" stroke-width="1.1"/>
</g>
<!-- zoom in -->
<g>
<path d="M210 41.5 L215 46.5" stroke="#F0902A" stroke-width="2.6" stroke-linecap="round"/>
<path d="M213.8 45.3 L215 46.5" stroke="#D8D8E8" stroke-width="2.6" stroke-linecap="round"/>
<circle cx="206.5" cy="37.7" r="4.3" fill="url(#lens)" stroke="#8CA0C4" stroke-width="1.2"/>
<path d="M204 37.7h5M206.5 35.2v5" stroke="#10A010" stroke-width="1.5"/>
</g>
<!-- zoom out (disabled) -->
<g>
<path d="M233 41.5 L238 46.5" stroke="#C8C8C4" stroke-width="2.4" stroke-linecap="round"/>
<circle cx="229.6" cy="37.6" r="4.3" fill="#DCDCD6" stroke="#B8B8B2" stroke-width="1.2"/>
<path d="M227 37.6h5" stroke="#A4A4A0" stroke-width="1.4"/>
</g>
<!-- cursor -->
<path d="M256.5 32.5 L256.5 44.5 L259.3 42 L261.5 47 L263.5 46 L261.3 41.3 L265 41 Z" fill="#fff" stroke="#000" stroke-width="1"/>
<!-- zoom window icon -->
<g>
<rect x="283.5" y="33.5" width="13" height="13" rx="1.5" fill="#FDFDFF" stroke="#7494E4" stroke-width="1.1"/>
<path d="M285.5 36.5h9" stroke="#8890A8" stroke-width="1"/>
<path d="M285.5 38.5h1.5M285.5 40.5h1.5M285.5 42.5h1.5M285.5 44.5h5" stroke="#586078" stroke-width="0.9"/>
<path d="M293.3 43 L296.3 46" stroke="#F49A20" stroke-width="2.2" stroke-linecap="round"/>
<circle cx="290.8" cy="40.2" r="3.3" fill="url(#lens)" stroke="#8C9CB4" stroke-width="0.9"/>
</g>
<!-- money -->
<g>
<rect x="313.5" y="33.6" width="12" height="2.6" rx="1.2" fill="#34C634" stroke="#128A12" stroke-width="0.6"/>
<rect x="314" y="36.2" width="12" height="2.6" rx="1.2" fill="#2AB82A" stroke="#128A12" stroke-width="0.6"/>
<rect x="318.5" y="38.8" width="7.3" height="2.4" rx="1.2" fill="#28B028" stroke="#128A12" stroke-width="0.6"/>
<rect x="317.8" y="34.4" width="2.6" height="4" fill="#E6DCEC"/>
<path d="M315 34.6h2M321.5 34.6h3M321.5 37.2h3.5" stroke="#8CF08C" stroke-width="0.7"/>
<ellipse cx="314.7" cy="44.2" rx="3" ry="1.9" fill="#D8A010" stroke="#A87808" stroke-width="0.6"/>
<ellipse cx="314.7" cy="42.4" rx="2.9" ry="1.8" fill="#E8B418" stroke="#A87808" stroke-width="0.6"/>
<ellipse cx="314.9" cy="40.4" rx="2.6" ry="1.9" fill="#F4CC38" stroke="#B08410" stroke-width="0.6"/>
<ellipse cx="319.6" cy="42.9" rx="2.5" ry="1.7" fill="#ECBC20" stroke="#A87808" stroke-width="0.6"/>
<circle cx="320.8" cy="44" r="0.6" fill="#C83818"/>
</g>
<!-- chart icon -->
<g>
<rect x="335.5" y="33.5" width="13" height="13" fill="#F6F4FC" stroke="#9898B6" stroke-width="1"/>
<path d="M339.5 34v12M343.5 34v12M336 38.5h12M336 42.5h12" stroke="#D4D0E4" stroke-width="1" fill="none"/>
<path d="M336.5 44.5 L339 43 L341 39 L342.5 36.5 L344 38.5 L345.5 40 L348 39.5" stroke="#2868D0" stroke-width="1.3" fill="none"/>
<path d="M336.5 38 L339 36.5 L341 37 L342.5 39 L344 38 L347.5 34.5" stroke="#22B022" stroke-width="1.4" fill="none"/>
</g>
<!-- grey dollar -->
<g>
<circle cx="364.9" cy="39.8" r="6.5" fill="#D6D5CF" stroke="#C6C5BE" stroke-width="1"/>
<text x="365" y="43.7" text-anchor="middle" font-family="Liberation Sans, sans-serif" font-size="11" fill="#E6E5DF" stroke="#E6E5DF" stroke-width="0.4">$</text>
</g>
<!-- table icon -->
<g shape-rendering="crispEdges">
<rect x="381" y="33" width="14" height="13" fill="#FCFBF4"/>
<rect x="381" y="33" width="14" height="3" fill="#3A68E0"/>
<rect x="382" y="34" width="3" height="1" fill="#8CB0F8"/><rect x="387" y="34" width="6" height="1" fill="#6C98F0"/>
<rect x="381" y="36" width="1" height="10" fill="#7890C8"/><rect x="394" y="35" width="1" height="11" fill="#28407C"/><rect x="381" y="45" width="14" height="1" fill="#1C2C60"/>
<rect x="383" y="38" width="4" height="1" fill="#5560B0"/><rect x="388" y="38" width="5" height="1" fill="#5560B0"/>
<rect x="383" y="40" width="4" height="1" fill="#5560B0"/><rect x="388" y="40" width="5" height="1" fill="#5560B0"/>
<rect x="383" y="42" width="4" height="1" fill="#5560B0"/><rect x="388" y="42" width="5" height="1" fill="#5560B0"/>
</g>
<!-- scrollbar arrows + grip -->
<path d="M12.2 646.6 L8.4 650.4 L12.2 654.2" stroke="#4D6185" stroke-width="2.4" fill="none"/>
<path d="M729.8 646.6 L733.6 650.4 L729.8 654.2" stroke="#4D6185" stroke-width="2.4" fill="none"/>
<g shape-rendering="crispEdges">
<rect x="646" y="648" width="1" height="7" fill="#EEF4FE"/><rect x="647" y="648" width="1" height="7" fill="#8CB0F8"/>
<rect x="648" y="648" width="1" height="7" fill="#EEF4FE"/><rect x="649" y="648" width="1" height="7" fill="#8CB0F8"/>
<rect x="650" y="648" width="1" height="7" fill="#EEF4FE"/><rect x="651" y="648" width="1" height="7" fill="#8CB0F8"/>
<rect x="652" y="648" width="1" height="7" fill="#EEF4FE"/><rect x="653" y="648" width="1" height="7" fill="#8CB0F8"/>
</g>

</svg>
<div id="bl"></div><div id="br"></div><div id="bb"></div>
</div>
</body></html>
